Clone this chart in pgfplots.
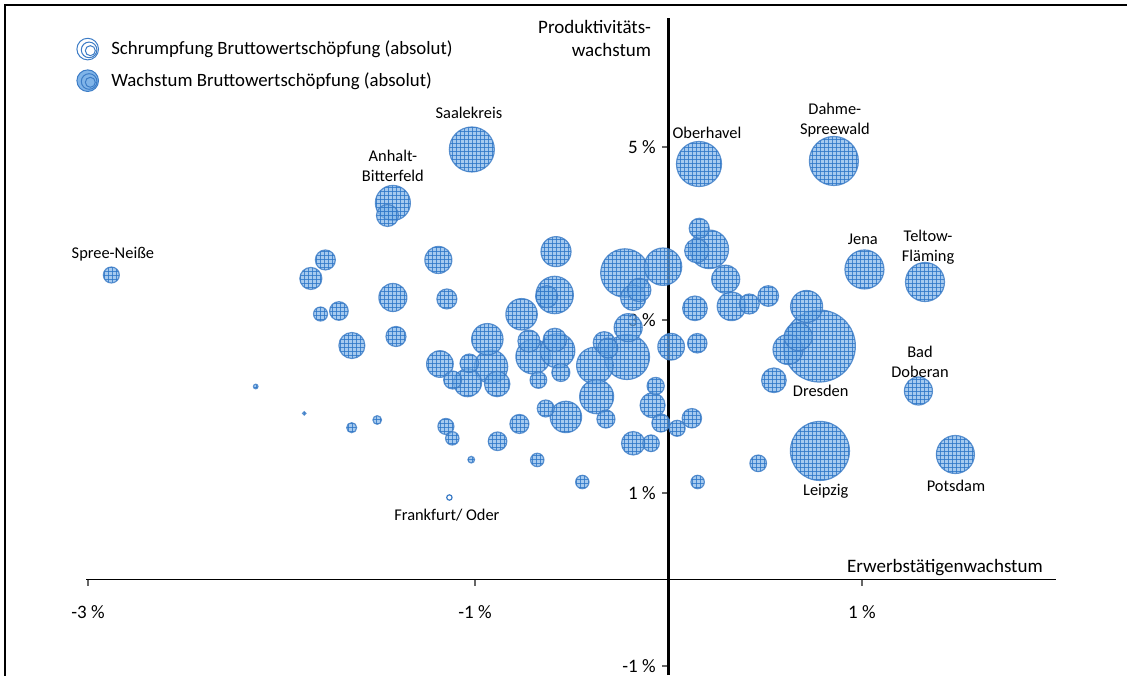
\documentclass[border=0pt]{standalone}
\usepackage{fontspec}
\setmainfont{Carlito}
\usepackage{pgfplots}
\pgfplotsset{compat=1.18}
\usepackage{pgfplotstable}
\usetikzlibrary{patterns}

\definecolor{bubfill}{RGB}{128,180,232}
\definecolor{bubgrid}{RGB}{45,118,200}
\definecolor{bubedge}{RGB}{60,124,198}

% small grid, like the Excel pattern fill
\pgfdeclarepatternformonly{bgrid}{\pgfqpoint{-0.2pt}{-0.2pt}}{\pgfqpoint{2.2pt}{2.2pt}}{\pgfqpoint{2pt}{2pt}}{%
  \pgfsetlinewidth{0.22pt}%
  \pgfpathmoveto{\pgfqpoint{0pt}{-0.2pt}}\pgfpathlineto{\pgfqpoint{0pt}{2.2pt}}%
  \pgfpathmoveto{\pgfqpoint{-0.2pt}{0pt}}\pgfpathlineto{\pgfqpoint{2.2pt}{0pt}}%
  \pgfusepath{stroke}}

\pgfdeclareplotmark{bubble}{%
  \pgfpathcircle{\pgfpointorigin}{\pgfplotmarksize}%
  \pgfsetfillcolor{bubfill}%
  \pgfsetfillopacity{0.7}%
  \pgfusepathqfill
  \pgfpathcircle{\pgfpointorigin}{\pgfplotmarksize}%
  \pgfsetfillpattern{bgrid}{bubgrid}%
  \pgfsetlinewidth{0.6pt}%
  \pgfsetstrokecolor{bubedge}%
  \pgfsetstrokeopacity{0.8}%
  \pgfusepathqfillstroke
}
\pgfdeclareplotmark{hollowbubble}{%
  \pgfpathcircle{\pgfpointorigin}{\pgfplotmarksize}%
  \pgfsetfillcolor{white}%
  \pgfsetstrokecolor{bubedge}%
  \pgfsetlinewidth{0.6pt}%
  \pgfusepathqfillstroke
}

% x: Erwerbstaetigenwachstum (%), y: Produktivitaetswachstum (%), r: bubble radius (pt)
\pgfplotstableread{
x y r
-1.132 0.948 1.35
}\schrumpf

\pgfplotstableread{
x y r
0.780 2.699 18.0
0.783 1.486 14.75
0.855 4.838 12.25
-0.225 3.543 12.1
-1.016 4.971 11.25
0.158 4.803 11.25
-0.214 2.572 11.25
1.013 3.584 9.75
1.326 3.439 9.75
0.211 3.817 9.65
1.483 1.445 9.5
-0.588 3.289 9.35
-0.028 3.616 9.35
-0.380 2.474 9.15
-1.424 4.353 8.75
-0.699 2.576 8.65
-0.573 2.645 8.65
-0.371 2.113 8.5
-0.917 2.460 8.35
0.714 3.156 8.0
-0.936 2.777 7.85
-0.759 3.066 7.85
-0.530 1.879 7.85
-0.581 3.790 7.5
0.618 2.659 7.5
0.326 3.158 7.15
1.292 2.179 7.0
-1.424 3.260 7.0
-1.038 2.275 7.0
-0.208 2.911 7.0
0.296 3.471 7.0
0.671 2.807 7.0
-1.189 3.694 6.75
-1.181 2.491 6.65
0.014 2.691 6.65
-1.636 2.705 6.5
-0.885 2.260 6.35
-0.182 3.257 6.35
-0.082 2.014 6.25
0.137 3.135 6.15
0.545 2.303 6.15
0.146 3.801 6.0
-0.587 2.769 5.85
-0.182 1.575 5.85
-0.151 3.347 5.85
-1.452 4.208 5.5
-1.848 3.480 5.5
-0.629 3.269 5.5
-0.721 2.757 5.5
-0.332 2.738 5.5
0.516 3.277 5.15
-1.773 3.694 5.0
-1.408 2.809 5.0
-1.145 3.243 5.0
-0.313 2.676 5.0
0.159 4.060 5.0
0.418 3.185 5.0
0.149 2.731 4.85
0.121 1.864 4.85
-0.770 1.798 4.75
-1.703 3.104 4.65
-1.029 2.499 4.65
-0.883 1.598 4.65
-1.115 2.306 4.5
-0.556 2.393 4.5
-0.323 1.855 4.5
-0.039 1.809 4.5
-0.066 2.237 4.3
-0.634 1.977 4.25
-0.672 2.306 4.15
-0.090 1.575 4.15
0.464 1.343 4.15
-2.879 3.520 4.0
-1.150 1.769 4.0
0.045 1.748 4.0
-1.798 3.069 3.5
-1.117 1.632 3.35
-0.678 1.382 3.35
-0.445 1.127 3.35
0.151 1.127 3.35
-1.637 1.755 2.5
-1.505 1.844 2.15
-1.019 1.385 1.65
-2.133 2.231 1.15
-1.882 1.921 0.85
}\wachstum

\begin{document}
\fontsize{9.5}{11.5}\selectfont
\begin{tikzpicture}
\useasboundingbox (-43pt,0pt) rectangle (520.5pt,337.5pt);
\draw[line width=1pt] (-40.5pt,-1pt) -- (-40.5pt,335pt) -- (522pt,335pt);
\begin{axis}[
  at={(0,0)}, anchor=south west,
  scale only axis, width=485pt, height=328.5pt,
  xmin=-3.010, xmax=2.003, ymin=-1.104, ymax=6.491,
  axis lines=middle, axis line style={-, black},
  x axis line style={line width=0.75pt},
  y axis line style={line width=1.1pt},
  axis on top,
  xtick={-3,-1,1}, ytick={-1,1,3,5},
  xticklabels={-3 \%,-1 \%,1 \%},
  yticklabels={-1 \%,1 \%,3 \%,5 \%},
  tick align=outside, major tick length=3pt,
  tick style={gray!80!black, line width=0.6pt},
  xticklabel style={yshift=-6.5pt},
  clip=false,
  legend style={at={(-0.0103,0.972)}, anchor=north west, draw=none, fill=none,
    font=\fontsize{9.4}{11}\selectfont, row sep=3.5pt, inner sep=0pt,
    nodes={inner sep=2pt}},
  legend cell align=left,
]
\addplot[scatter, only marks, mark=hollowbubble,
  visualization depends on={\thisrow{r} \as \rr},
  scatter/@pre marker code/.append style={/tikz/mark size=\rr},
  legend image code/.code={
    \draw[bubedge, line width=0.5pt, fill=white] (5.4pt,0) circle (5.4pt);
    \draw[bubedge, line width=0.5pt, fill=white] (6.1pt,-0.4pt) circle (3.9pt);
    \draw[bubedge, line width=0.5pt, fill=white] (6.7pt,-0.8pt) circle (2.5pt);
    \path (15pt,0);
  }] table[x=x, y=y] {\schrumpf};
\addlegendentry{Schrumpfung Bruttowertschöpfung (absolut)}
\addplot[scatter, only marks, mark=bubble,
  visualization depends on={\thisrow{r} \as \rr},
  scatter/@pre marker code/.append style={/tikz/mark size=\rr},
  legend image code/.code={
    \draw[bubedge, line width=0.5pt, fill=bubfill] (5.4pt,0) circle (5.4pt);
    \draw[bubedge, line width=0.5pt, fill=bubfill] (6.1pt,-0.4pt) circle (3.9pt);
    \draw[bubedge, line width=0.5pt, fill=bubfill] (6.7pt,-0.8pt) circle (2.5pt);
    \path (15pt,0);
  }] table[x=x, y=y] {\wachstum};
\addlegendentry{Wachstum Bruttowertschöpfung (absolut)}

% axis titles
\node[anchor=east, align=right] at (axis cs:-0.055,6.254) {Produktivitäts-\\wachstum};
\node at (axis cs:1.429,0.133) {Erwerbstätigenwachstum};

% bubble labels
\begin{scope}[every node/.style={font=\fontsize{8.2}{10}\selectfont, align=center}]
\node at (axis cs:-2.871,3.763) {Spree-Neiße};
\node at (axis cs:-1.031,5.393) {Saalekreis};
\node at (axis cs:-1.424,4.780) {Anhalt-\\Bitterfeld};
\node at (axis cs:0.199,5.162) {Oberhavel};
\node at (axis cs:0.860,5.312) {Dahme-\\Spreewald};
\node at (axis cs:1.005,3.936) {Jena};
\node at (axis cs:1.342,3.844) {Teltow-\\Fläming};
\node at (axis cs:1.300,2.514) {Bad\\Doberan};
\node at (axis cs:0.787,2.179) {Dresden};
\node at (axis cs:0.813,1.023) {Leipzig};
\node at (axis cs:1.486,1.081) {Potsdam};
\node at (axis cs:-1.145,0.746) {Frankfurt/ Oder};
\end{scope}
\end{axis}
\end{tikzpicture}
\end{document}
